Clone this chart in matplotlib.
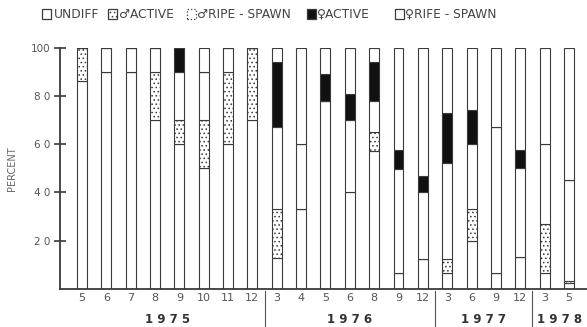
import numpy as np
import matplotlib
matplotlib.use("Agg")
import matplotlib.pyplot as plt
from matplotlib.patches import Rectangle
import matplotlib.transforms as mtransforms

# sampling months and the year each one belongs to
months = ["5", "6", "7", "8", "9", "10", "11", "12",
          "3", "4", "5", "6", "8", "9", "12",
          "3", "6", "9", "12",
          "3", "5"]
years = ["1975"] * 8 + ["1976"] * 7 + ["1977"] * 4 + ["1978"] * 2

# percent of each gonad stage per sample (stacked bottom to top)
undiff = [86, 90, 90, 70, 60, 50, 60, 70,
          13, 33, 78, 40, 57, 6.5, 12.5,
          6.5, 20, 6.5, 13.3,
          6.5, 2.5]
male_active = [14, 0, 0, 20, 10, 20, 30, 30,
               20, 0, 0, 0, 8, 0, 0,
               6, 13, 0, 0,
               20.5, 1]
male_ripe = [0, 10, 10, 10, 20, 20, 10, 0,
             34, 27, 0, 30, 13, 43, 27.5,
             39.5, 27, 60.5, 36.7,
             33, 41.5]
female_active = [0, 0, 0, 0, 10, 0, 0, 0,
                 27, 0, 11, 10.6, 16, 8, 7,
                 21, 14, 0, 7.5,
                 0, 0]
female_ripe = [0, 0, 0, 0, 0, 10, 0, 0,
               6, 40, 11, 19.4, 6, 42.5, 53,
               27, 26, 33, 42.5,
               40, 55]

INK = "#3a3a3a"
plt.rcParams["font.family"] = ["DejaVu Sans"]
plt.rcParams["hatch.linewidth"] = 0.6
plt.rcParams["hatch.color"] = "#666666"

stages = [
    (undiff, dict(facecolor="white", hatch=None)),
    (male_active, dict(facecolor="white", hatch="....")),
    (male_ripe, dict(facecolor="white", hatch=None)),
    (female_active, dict(facecolor="#111111", hatch=None)),
    (female_ripe, dict(facecolor="white", hatch=None)),
]

fig = plt.figure(figsize=(5.87, 3.27), dpi=100)
ax = fig.add_axes([0.1022, 0.1162, 0.8978, 0.7385])

x = np.arange(len(months))
bottom = np.zeros(len(months))
for vals, style in stages:
    vals = np.array(vals, dtype=float)
    ax.bar(x, vals, bottom=bottom, width=0.41, edgecolor=INK,
           linewidth=0.8, **style)
    bottom += vals

ax.set_xlim(-0.9, 20.74)
ax.set_ylim(0, 100)

for side in ("top", "right"):
    ax.spines[side].set_visible(False)
ax.spines["left"].set_linewidth(1.3)
ax.spines["bottom"].set_linewidth(1.3)
ax.spines["left"].set_color(INK)
ax.spines["bottom"].set_color(INK)

ax.set_yticks([20, 40, 60, 80, 100])
ax.set_yticklabels(["2 0", "4 0", "6 0", "8 0", "100"], fontsize=7.5, color="#555555")
ax.tick_params(axis="y", direction="inout", length=8, width=1.2, color=INK, pad=3)

ax.set_xticks(x)
ax.set_xticklabels(months, fontsize=8, color="#555555")
ax.tick_params(axis="x", length=0, pad=3)

ax.set_ylabel("PERCENT", fontsize=7, color="#666666", labelpad=10)

# year labels and the dividers between years
trans = mtransforms.blended_transform_factory(ax.transData, ax.transAxes)
year_names = list(dict.fromkeys(years))
for yr in year_names:
    idx = [i for i, y in enumerate(years) if y == yr]
    shift = 0.1 if yr == "1978" else 0
    ax.text(np.mean(idx) + shift, -0.125, " ".join(yr),
            transform=trans, ha="center", va="center", fontsize=8.5,
            fontweight="bold", color="#333333")
for i in range(1, len(years)):
    if years[i] != years[i - 1]:
        ax.plot([i - 0.5, i - 0.5], [-0.01, -0.17], transform=trans,
                color="#555555", linewidth=0.8, clip_on=False)

# legend row across the top
legend_items = [
    (42, 54, "UNDIFF", dict(facecolor="white", hatch=None)),
    (108, 119, "\u2642ACTIVE", dict(facecolor="white", hatch="....")),
    (187, 197, "\u2642RIPE - SPAWN", dict(facecolor="white", hatch=None, linestyle=":")),
    (307, 317, "\u2640ACTIVE", dict(facecolor="#111111", hatch=None)),
    (395, 405, "\u2640RIFE - SPAWN", dict(facecolor="white", hatch=None)),
]
W, H = 587.0, 327.0
for bx, tx, label, style in legend_items:
    fig.patches.append(Rectangle((bx / W, 1 - 19 / H), 9 / W, 10 / H,
                                 transform=fig.transFigure, edgecolor=INK,
                                 linewidth=0.9, **style))
    fig.text(tx / W, 1 - 14 / H, label, fontsize=8.8, color="#444444",
             ha="left", va="center")

fig.savefig("out.png", dpi=100, facecolor="white")
